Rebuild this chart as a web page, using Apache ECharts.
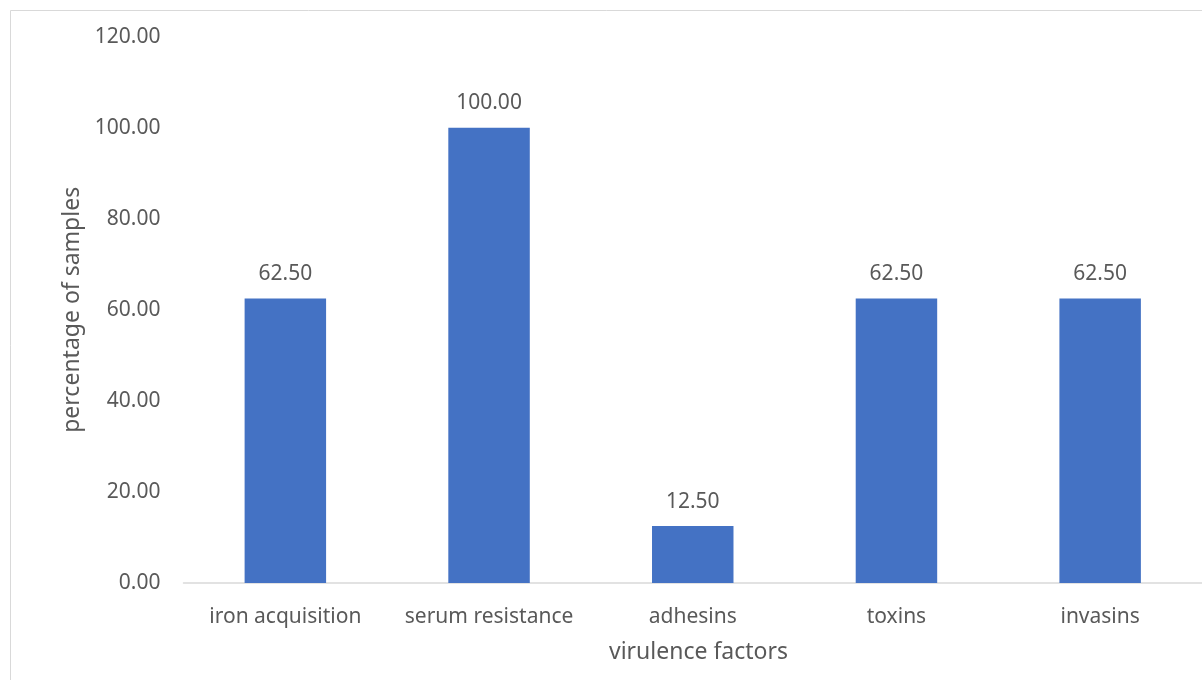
<!DOCTYPE html>
<html>
<head>
<meta charset="utf-8">
<script src="https://cdn.jsdelivr.net/npm/echarts@6/dist/echarts.min.js"></script>
<style>
  html, body { margin: 0; padding: 0; background: #fff; }
  #chart { width: 1202px; height: 680px; }
</style>
</head>
<body>
<div id="chart"></div>
<script>
// Virulence factor prevalence (% of samples)
const categories = ['iron acquisition', 'serum resistance', 'adhesins', 'toxins', 'invasins'];
const percentages = [62.5, 100, 12.5, 62.5, 62.5];
const yTicks = { min: 0, max: 120, interval: 20 };

const textColor = '#595959';
const fontFamily = '"Noto Sans", "Open Sans", sans-serif';
const fontSize = 21;
const titleSize = 23;

const chart = echarts.init(document.getElementById('chart'), null, { renderer: 'canvas' });

chart.setOption({
  backgroundColor: '#ffffff',
  animation: false,
  textStyle: { fontFamily: fontFamily, color: textColor },
  grid: { left: 183.5, top: 36.6, width: 1030, height: 546.4, containLabel: false },
  graphic: [
    {
      type: 'rect',
      shape: { x: 10.5, y: 10.5, width: 1200, height: 700 },
      style: { fill: 'none', stroke: '#D9D9D9', lineWidth: 1 },
      silent: true
    },
    {
      type: 'text',
      x: 698.5,
      y: 652,
      silent: true,
      style: {
        text: 'virulence factors',
        align: 'center',
        verticalAlign: 'middle',
        fontSize: titleSize,
        fontFamily: fontFamily,
        fill: textColor
      }
    }
  ],
  xAxis: {
    type: 'category',
    data: categories,
    axisLine: { show: true, lineStyle: { color: '#D9D9D9', width: 1.5 } },
    axisTick: { show: false },
    axisLabel: { interval: 0, color: textColor, fontSize: fontSize, margin: 24, fontFamily: fontFamily },
    splitLine: { show: false }
  },
  yAxis: {
    type: 'value',
    min: yTicks.min,
    max: yTicks.max,
    interval: yTicks.interval,
    name: 'percentage of samples',
    nameLocation: 'middle',
    nameGap: 97,
    nameTextStyle: { color: textColor, fontSize: titleSize, fontFamily: fontFamily },
    axisLine: { show: false },
    axisTick: { show: false },
    splitLine: { show: false },
    axisLabel: {
      color: textColor, fontSize: fontSize, margin: 23, fontFamily: fontFamily,
      formatter: v => v.toFixed(2)
    }
  },
  series: [{
    type: 'bar',
    data: percentages,
    barWidth: '40%',
    itemStyle: { color: '#4472C4' },
    label: {
      show: true,
      position: 'top',
      distance: 14,
      color: textColor,
      fontSize: fontSize,
      fontFamily: fontFamily,
      formatter: p => p.value.toFixed(2)
    }
  }]
});
</script>
</body>
</html>
